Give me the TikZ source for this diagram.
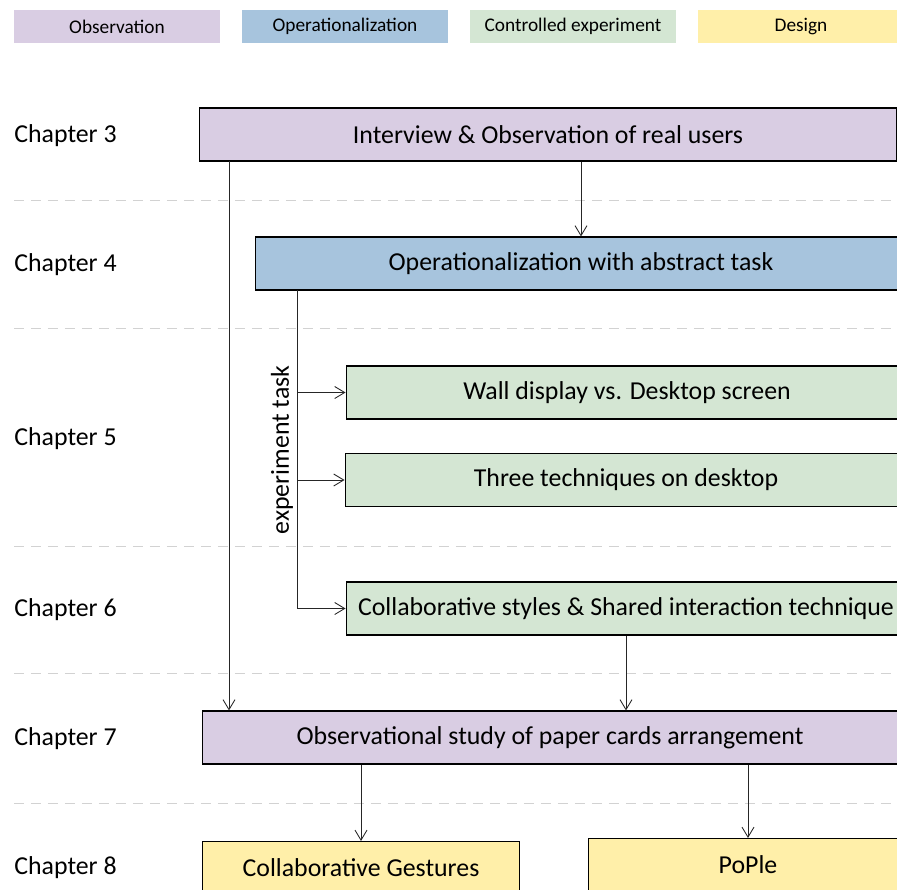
\documentclass[tikz,border=0pt]{standalone}
\usepackage{fontspec}
\setmainfont{Carlito}
\usepackage{xcolor}
\usetikzlibrary{arrows.meta,positioning}

\definecolor{obscol}{HTML}{D9CDE3}
\definecolor{opcol}{HTML}{A7C4DD}
\definecolor{expcol}{HTML}{D4E6D3}
\definecolor{descol}{HTML}{FFEFA9}

\begin{document}
\begin{tikzpicture}[x=0.02cm,y=-0.02cm,>={Straight Barb[length=2mm,width=2.4mm]},
legend/.style={rectangle,minimum width=4.12cm,minimum height=0.66cm,
font=\fontsize{11}{13}\selectfont},
stage/.style={rectangle,draw=black,line width=0.6pt,minimum height=1.06cm,
font=\fontsize{14.7}{17}\selectfont},
chapter/.style={anchor=west,inner sep=0pt,font=\fontsize{14.7}{17}\selectfont},
sep/.style={gray!35,line width=0.5pt,dash pattern=on 2mm off 1.4mm},
link/.style={->,line width=0.5pt,black!85}]
\useasboundingbox (0,0) rectangle (897,890);
\clip (0,0) rectangle (897,890);

% legend
\node (leg_obs) [legend,fill=obscol] at (117,26.5) {Observation};
\node (leg_op) [legend,fill=opcol] at (345,26.5) {Operationalization};
\node (leg_exp) [legend,fill=expcol] at (573,26.5) {Controlled experiment};
\node (leg_des) [legend,fill=descol] at (801,26.5) {Design};

% chapters
\node (chap_3) [chapter] at (14,136) {Chapter 3};
\node (chap_4) [chapter] at (14,265) {Chapter 4};
\node (chap_5) [chapter] at (14,439) {Chapter 5};
\node (chap_6) [chapter] at (14,610) {Chapter 6};
\node (chap_7) [chapter] at (14,739) {Chapter 7};
\node (chap_8) [chapter] at (14,868) {Chapter 8};

\draw[sep] (14,200) -- (897,200);
\draw[sep] (14,328) -- (897,328);
\draw[sep] (14,546) -- (897,546);
\draw[sep] (14,673) -- (897,673);
\draw[sep] (14,803) -- (897,803);

% stages
\node (box_interview) [stage,fill=obscol,minimum width=13.96cm] at (548,134.5)
{Interview \& Observation of real users};
\node (box_oper) [stage,fill=opcol,minimum width=13.04cm] at (581,263.5)
{Operationalization with abstract task};
\node (box_wall) [stage,fill=expcol,minimum width=11.24cm] at (627,392.5)
{Wall display vs. Desktop screen};
\node (box_three) [stage,fill=expcol,minimum width=11.24cm] at (626,480)
{Three techniques on desktop};
\node (box_collab) [stage,fill=expcol,minimum width=11.2cm] at (626,608.5)
{Collaborative styles \& Shared interaction technique};
\node (box_observ) [stage,fill=obscol,minimum width=13.92cm] at (550,737.5)
{Observational study of paper cards arrangement};
\node (box_gestures) [stage,fill=descol,minimum width=6.36cm] at (361,868)
{Collaborative Gestures};
\node (box_pople) [stage,fill=descol,minimum width=6.4cm] at (748,865)
{PoPle};

% links
\coordinate (left_top) at (229,161);
\coordinate (task_top) at (297,290);
\coordinate (task_end) at (297,608.5);

\draw[link] (box_interview.south -| box_oper.north) -- (box_oper.north);
\draw[link] (left_top) -- (left_top |- box_observ.north);
\draw[-,line width=0.5pt,black!85] (task_top) -- (task_end);
\draw[link] (task_top |- box_wall.west) -- (box_wall.west);
\draw[link] (task_top |- box_three.west) -- (box_three.west);
\draw[link] (task_end) -- (box_collab.west);
\node (task_label) [rotate=90,font=\fontsize{14.7}{17}\selectfont] at (282,450)
{experiment task};
\draw[link] (box_collab.south) -- (box_collab.south |- box_observ.north);
\draw[link] (box_gestures.north |- box_observ.south) -- (box_gestures.north);
\draw[link] (box_pople.north |- box_observ.south) -- (box_pople.north);

\end{tikzpicture}
\end{document}
